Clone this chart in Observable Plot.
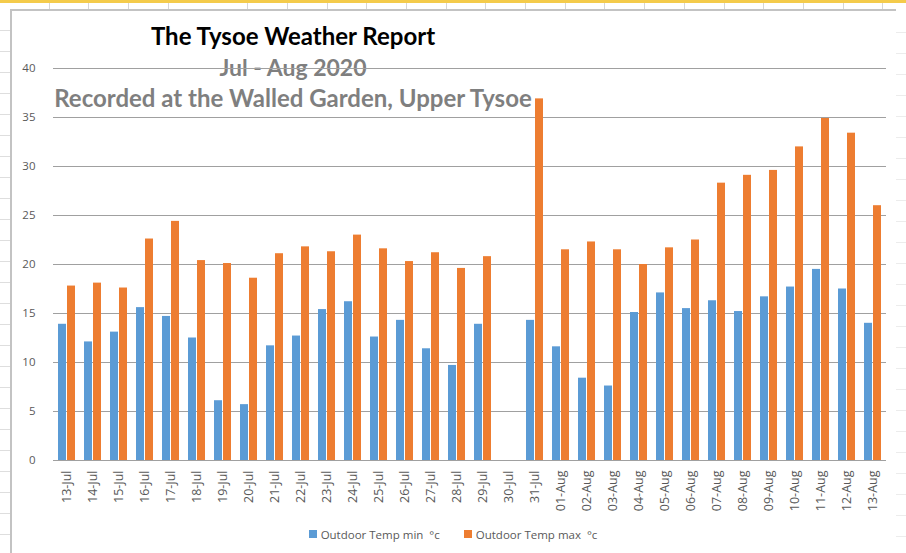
<!DOCTYPE html>
<html>
<head>
<meta charset="utf-8">
<script src="https://cdn.jsdelivr.net/npm/d3@7"></script>
<script src="https://cdn.jsdelivr.net/npm/@observablehq/plot@0.6"></script>
<style>
  html, body { margin: 0; padding: 0; background: #fff; }
  #page { position: relative; width: 906px; height: 553px; overflow: hidden; background: #fff; }
  #sheetTop { position: absolute; left: 0; top: 0; width: 906px; height: 3px; background: #f4cb4b; }
  #sheetCols { position: absolute; left: 0; top: 3px; width: 906px; height: 7px;
    background-image: repeating-linear-gradient(90deg, #ffffff 0px, #ffffff 38.7px, #d6d6d6 38.7px, #d6d6d6 39.7px);
    background-position: 10px 0; }
  #sheetRowsL { position: absolute; left: 0; top: 10px; width: 10px; height: 543px;
    background-image: repeating-linear-gradient(180deg, #ffffff 0px, #ffffff 20px, #dedede 20px, #dedede 21px); }
  #sheetRowsR { position: absolute; left: 894px; top: 12px; width: 12px; height: 541px;
    background-image: repeating-linear-gradient(180deg, #ffffff 0px, #ffffff 20px, #ececec 20px, #ececec 21px); }
  #frame { position: absolute; left: 10px; top: 9px; width: 884px; height: 544px;
    border-left: 2px solid #c3c3c3; border-top: 2px solid #c3c3c3; background: #fff; }
  .ttl { position: absolute; left: 0; width: 586px; text-align: center; font-family: Lato, "Open Sans", sans-serif; font-weight: bold; white-space: pre; }
  #t1 { top: 22px; line-height: 28px; font-size: 24px; color: #000; }
  #t2 { top: 53px; line-height: 28px; font-size: 23px; color: #7f7f7f; }
  #t3 { top: 84px; line-height: 28px; font-size: 24px; color: #7f7f7f; }
  #chart { position: absolute; left: 0; top: 0; }
  #chart g[aria-label^="fx-axis"] { font-size: 12.5px; }
  #chart g[aria-label^="y-axis"] { font-size: 11.5px; }
  #legend { position: absolute; left: 0; top: 526px; width: 906px; height: 16px; display: flex; justify-content: center; align-items: center;
    font-family: "Open Sans", sans-serif; font-size: 11.5px; color: #595959; white-space: pre; }
  .sw { display: inline-block; width: 8px; height: 8px; margin-right: 4px; }
  .item { display: inline-flex; align-items: center; margin: 0 12px; }
</style>
</head>
<body>
<div id="page">
  <div id="sheetTop"></div>
  <div id="sheetCols"></div>
  <div id="sheetRowsL"></div>
  <div id="sheetRowsR"></div>
  <div id="frame"></div>
  <div class="ttl" id="t1">The Tysoe Weather Report</div>
  <div class="ttl" id="t2">Jul - Aug 2020</div>
  <div class="ttl" id="t3">Recorded at the Walled Garden, Upper Tysoe</div>
  <div id="chart"></div>
  <div id="legend"></div>
</div>
<script>
const dates = ["13-Jul","14-Jul","15-Jul","16-Jul","17-Jul","18-Jul","19-Jul","20-Jul","21-Jul","22-Jul","23-Jul","24-Jul","25-Jul","26-Jul","27-Jul","28-Jul","29-Jul","30-Jul","31-Jul","01-Aug","02-Aug","03-Aug","04-Aug","05-Aug","06-Aug","07-Aug","08-Aug","09-Aug","10-Aug","11-Aug","12-Aug","13-Aug"];
const minTemps = [13.9,12.1,13.1,15.6,14.7,12.5,6.1,5.7,11.7,12.7,15.4,16.2,12.6,14.3,11.4,9.7,13.9,null,14.3,11.6,8.4,7.6,15.1,17.1,15.5,16.3,15.2,16.7,17.7,19.5,17.5,14.0];
const maxTemps = [17.8,18.1,17.6,22.6,24.4,20.4,20.1,18.6,21.1,21.8,21.3,23.0,21.6,20.3,21.2,19.6,20.8,null,36.9,21.5,22.3,21.5,20.0,21.7,22.5,28.3,29.1,29.6,32.0,34.9,33.4,26.0];
const seriesNames = ["Outdoor Temp min  \u00B0c", "Outdoor Temp max  \u00B0c"];
const seriesColors = ["#5b9bd5", "#ed7d31"];
const yTicks = [0, 5, 10, 15, 20, 25, 30, 35, 40];

const rows = [];
dates.forEach((d, i) => {
  rows.push({date: d, series: seriesNames[0], value: minTemps[i]});
  rows.push({date: d, series: seriesNames[1], value: maxTemps[i]});
});

const W = 906, ML = 48, MR = 15, GAP = 0.28;
// grid rules are drawn per facet; extend each by half the facet gap so they join up
const gridInset = -((W - ML - MR) / dates.length) * GAP / 2 - 0.3;

const chart = Plot.plot({
  width: W,
  height: 520,
  marginLeft: ML,
  marginRight: MR,
  marginTop: 68,
  marginBottom: 60,
  style: {background: "transparent", fontFamily: "'Open Sans', sans-serif", fontSize: "11px", color: "#595959"},
  fx: {domain: dates, paddingInner: GAP, paddingOuter: GAP / 2, label: null, tickRotate: -90, tickSize: 0, tickPadding: 10},
  x: {domain: seriesNames, padding: 0.07, axis: null},
  y: {domain: [0, 40], ticks: yTicks, tickSize: 0, tickPadding: 22, label: null},
  color: {domain: seriesNames, range: seriesColors},
  marks: [
    Plot.ruleY(yTicks, {stroke: "#a0a0a0", strokeWidth: 1, insetLeft: gridInset, insetRight: gridInset}),
    Plot.barY(rows, {fx: "date", x: "series", y: "value", fill: "series"})
  ]
});
document.getElementById("chart").appendChild(chart);

const legend = document.getElementById("legend");
seriesNames.forEach((name, i) => {
  const item = document.createElement("span");
  item.className = "item";
  const sw = document.createElement("span");
  sw.className = "sw";
  sw.style.background = seriesColors[i];
  item.appendChild(sw);
  item.appendChild(document.createTextNode(name));
  legend.appendChild(item);
});
</script>
</body>
</html>
